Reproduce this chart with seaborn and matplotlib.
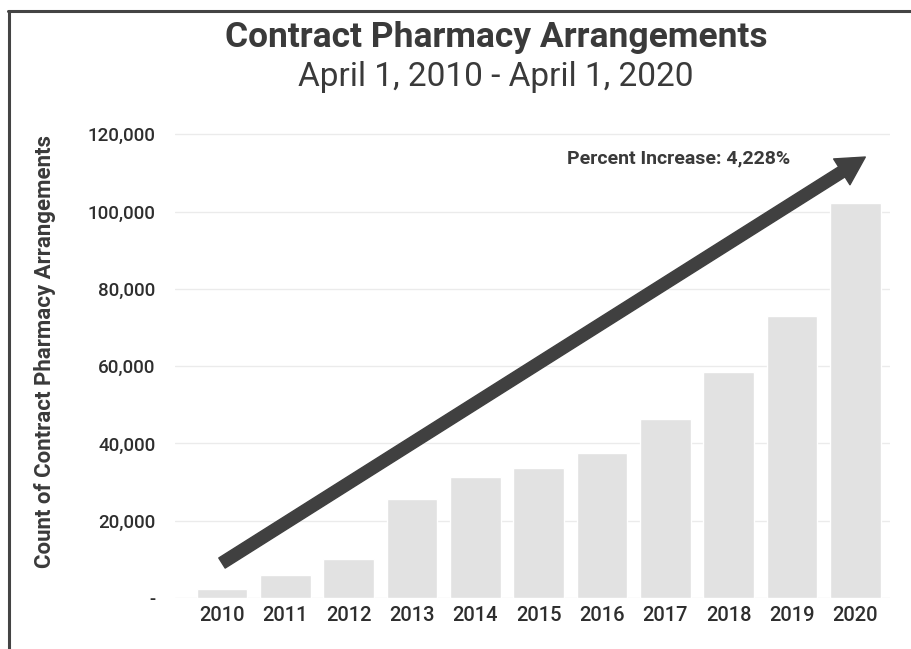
import matplotlib
matplotlib.use("Agg")
import matplotlib.pyplot as plt
from matplotlib.lines import Line2D
import seaborn as sns
import pandas as pd

years = ["2010", "2011", "2012", "2013", "2014", "2015", "2016", "2017", "2018", "2019", "2020"]
counts = [2400, 6000, 10100, 25600, 31300, 33600, 37500, 46300, 58500, 73000, 102200]
ytick_values = [0, 20000, 40000, 60000, 80000, 100000, 120000]
ytick_labels = ["-", "20,000", "40,000", "60,000", "80,000", "100,000", "120,000"]
title = "Contract Pharmacy Arrangements"
subtitle = "April 1, 2010 - April 1, 2020"
ylabel = "Count of Contract Pharmacy Arrangements"
note = "Percent Increase: 4,228%"
arrow_start = (0, 9050)
arrow_end = (10.16, 114100)

sns.set_theme(style="white")
plt.rcParams["font.family"] = ["Roboto", "DejaVu Sans"]

df = pd.DataFrame({"year": years, "count": counts})

fig = plt.figure(figsize=(9.11, 6.49), dpi=100)
fig.patch.set_facecolor("white")
ax = fig.add_axes([175 / 911, 51 / 649, 715 / 911, 471.5 / 649])

sns.barplot(data=df, x="year", y="count", order=years, color="#e2e2e2",
            saturation=1, width=0.8, ax=ax, zorder=2)

ax.set_xlim(-0.742, 10.55)
ax.set_ylim(0, 122000)
ax.set_yticks(ytick_values)
ax.set_yticklabels(ytick_labels)
ax.yaxis.grid(True, color="#ebebeb", linewidth=1.0, zorder=0)
ax.set_axisbelow(True)
for s in ax.spines.values():
    s.set_visible(False)
ax.tick_params(axis="y", length=0, pad=14, labelsize=13.5, labelcolor="#2e2e2e")
ax.tick_params(axis="x", length=0, pad=6, labelsize=14.5, labelcolor="#2e2e2e")
for lbl in ax.get_xticklabels() + ax.get_yticklabels():
    lbl.set_fontweight("medium")
ax.set_xlabel("")
ax.set_ylabel("")

ax.annotate("", xy=arrow_end, xytext=arrow_start,
            arrowprops=dict(arrowstyle="simple,head_length=20,head_width=22,tail_width=8.6",
                            mutation_scale=1, color="#404040", shrinkA=0, shrinkB=0),
            zorder=5)
ax.text(5.45, 113800, note, fontsize=14, fontweight="bold", color="#3a3a3a",
        ha="left", va="center", zorder=6)

fig.text(496 / 911, 1 - 38 / 649, title, fontsize=25.5, fontweight="bold",
         color="#3a3a3a", ha="center", va="center")
fig.text(496 / 911, 1 - 77 / 649, subtitle, fontsize=24, color="#3a3a3a",
         ha="center", va="center")
fig.text(45 / 911, 1 - 352 / 649, ylabel, fontsize=16, fontweight="bold",
         color="#3a3a3a", rotation=90, ha="center", va="center")

# frame lines of the original screenshot
fig.add_artist(Line2D([8 / 911, 1.0], [1 - 11 / 649, 1 - 11 / 649],
                      transform=fig.transFigure, color="#444444", linewidth=2.2))
fig.add_artist(Line2D([9 / 911, 9 / 911], [0, 1 - 11 / 649],
                      transform=fig.transFigure, color="#444444", linewidth=2.2))

fig.savefig("out.png", dpi=100, facecolor="white")
